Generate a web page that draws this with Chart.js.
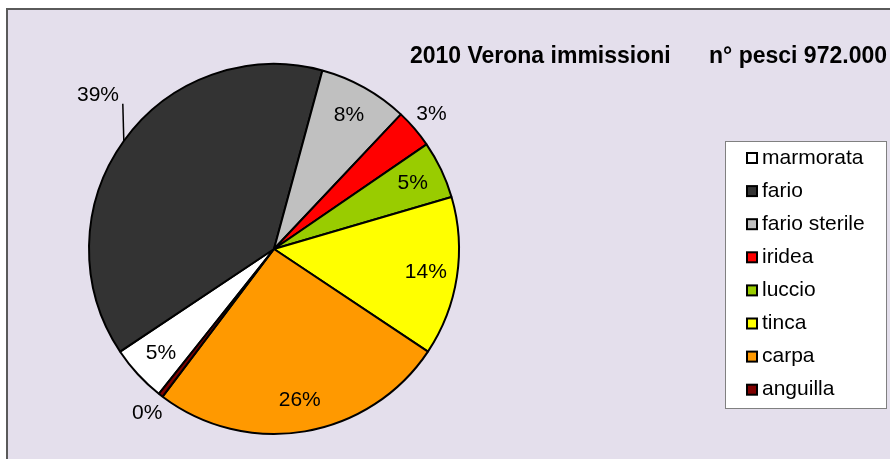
<!DOCTYPE html>
<html>
<head>
<meta charset="utf-8">
<script src="https://cdn.jsdelivr.net/npm/chart.js@4"></script>
<style>
  html, body { margin: 0; padding: 0; background: #fff; }
  #wrap { position: relative; width: 890px; height: 459px; overflow: hidden; }
  #frame {
    position: absolute; left: 6px; top: 8px; width: 900px; height: 470px;
    background: #e4dfec; border-left: 2px solid #5a5a5a; border-top: 2px solid #5a5a5a;
  }
  canvas { position: absolute; left: 0; top: 0; }
</style>
</head>
<body>
<div id="wrap">
  <div id="frame"></div>
  <canvas id="c" width="890" height="459"></canvas>
</div>
<script>
const species = ['marmorata', 'fario', 'fario sterile', 'iridea', 'luccio', 'tinca', 'carpa', 'anguilla'];
const fishCount = [48000, 375000, 76000, 33000, 49000, 135000, 252000, 4000];
const sliceColors = ['#ffffff', '#333333', '#c0c0c0', '#ff0000', '#99cc00', '#ffff00', '#ff9900', '#800000'];
// where each percentage sits: inside the slice, outside, or outside with a leader line
const labelPlace = ['in', 'leader', 'in', 'out', 'in', 'in', 'in', 'out'];
const chartTitle = '2010 Verona immissioni      n° pesci 972.000';

const FONT = '"Liberation Sans", Arial, sans-serif';

const pctLabels = {
  id: 'pctLabels',
  afterDatasetsDraw(chart) {
    const ctx = chart.ctx;
    const meta = chart.getDatasetMeta(0);
    const total = fishCount.reduce((s, v) => s + v, 0);
    ctx.save();
    ctx.font = '21px ' + FONT;
    ctx.fillStyle = '#000';
    ctx.textAlign = 'center';
    ctx.textBaseline = 'middle';
    meta.data.forEach((arc, i) => {
      const mid = (arc.startAngle + arc.endAngle) / 2;
      const R = arc.outerRadius;
      const pct = Math.round(fishCount[i] / total * 100) + '%';
      let a = mid, f = 0.83;
      if (labelPlace[i] === 'out') f = 1.12;
      if (labelPlace[i] === 'leader') {
        a = mid + 5.5 * Math.PI / 180;
        f = 1.265;
        const ex = arc.x + Math.cos(mid) * R, ey = arc.y + Math.sin(mid) * R;
        const ly = arc.y + Math.sin(a) * R * f + 9;
        ctx.strokeStyle = '#000';
        ctx.lineWidth = 1.5;
        ctx.beginPath();
        ctx.moveTo(ex, ey);
        ctx.lineTo(ex - 1, ly);
        ctx.stroke();
      }
      ctx.fillText(pct, arc.x + Math.cos(a) * R * f, arc.y + Math.sin(a) * R * f);
    });
    ctx.restore();
  }
};

const boxLegend = {
  id: 'boxLegend',
  afterDraw(chart) {
    const ctx = chart.ctx;
    ctx.save();
    // title
    ctx.font = 'bold 23px ' + FONT;
    ctx.fillStyle = '#000';
    ctx.textAlign = 'right';
    ctx.textBaseline = 'middle';
    ctx.fillText(chartTitle, 887, 57);
    // legend box
    const bx = 725.5, by = 141.5, bw = 161, bh = 267;
    ctx.fillStyle = '#fff';
    ctx.fillRect(bx, by, bw, bh);
    ctx.strokeStyle = '#808080';
    ctx.lineWidth = 1;
    ctx.strokeRect(bx, by, bw, bh);
    ctx.font = '21px ' + FONT;
    ctx.textAlign = 'left';
    species.forEach((name, i) => {
      const y = 158 + i * 33.1;
      ctx.fillStyle = sliceColors[i];
      ctx.fillRect(747, y - 5, 10, 10);
      ctx.strokeStyle = '#000';
      ctx.lineWidth = 2;
      ctx.strokeRect(747, y - 5, 10, 10);
      ctx.fillStyle = '#000';
      ctx.fillText(name, 762, y);
    });
    ctx.restore();
  }
};

new Chart(document.getElementById('c'), {
  type: 'pie',
  data: {
    labels: species,
    datasets: [{
      data: fishCount,
      backgroundColor: sliceColors,
      borderColor: '#000',
      borderWidth: 2,
      hoverOffset: 0
    }]
  },
  options: {
    responsive: false,
    animation: false,
    rotation: 218.5,
    layout: { padding: { left: 88, top: 63, right: 430, bottom: 24 } },
    plugins: {
      legend: { display: false },
      title: { display: false },
      tooltip: { enabled: false }
    }
  },
  plugins: [pctLabels, boxLegend]
});
</script>
</body>
</html>
